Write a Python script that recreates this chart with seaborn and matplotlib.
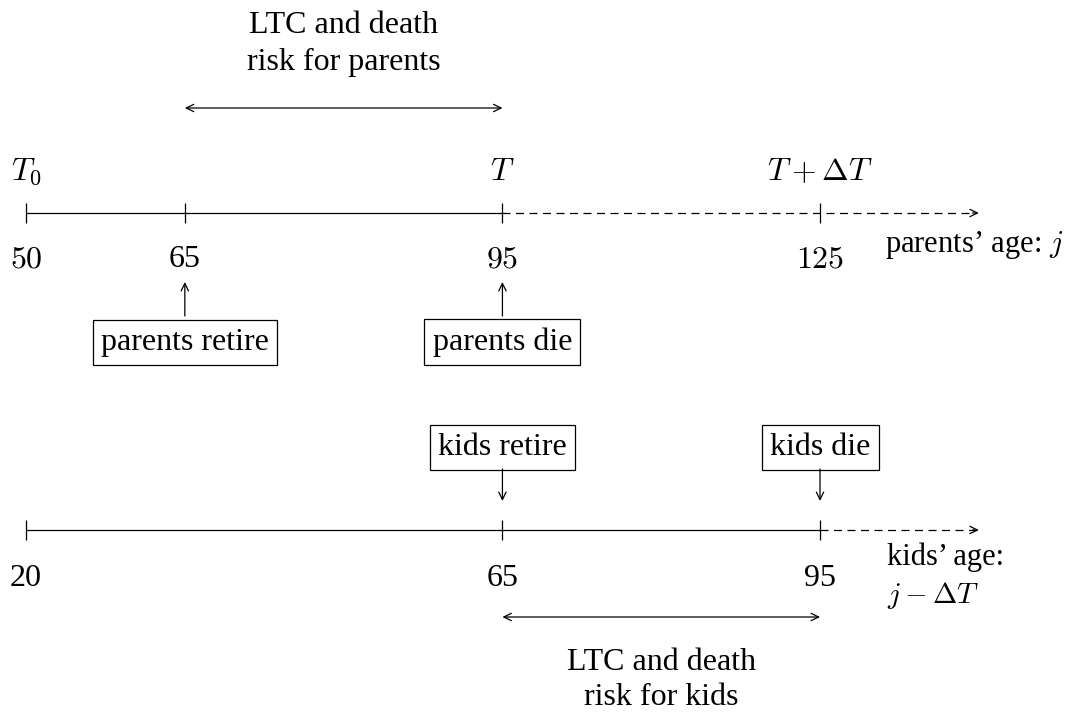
### TIMELINE: PARENTS AND KIDS AGES ###

import numpy as np
import matplotlib
matplotlib.use("Agg")
import matplotlib.pyplot as plt
import seaborn as sns

# Data (everything in parents' age, kids are DELTA_T years younger)
DELTA_T = 30
parent_ticks = [50, 65, 95, 125]
parent_tick_labels = ["$50$", "65", "$95$", "$125$"]
parent_solid_end = 95
parent_dashed_end = 140
parent_markers = [50, 95, 125]
parent_marker_labels = ["$T_0$", "$T$", "$T + \\Delta T$"]
parent_events = [65, 95]
parent_event_labels = ["parents retire", "parents die"]
parent_risk = [65, 95]

kid_ticks = [20, 65, 95]
kid_tick_labels = ["20", "65", "95"]
kid_solid_end = 95
kid_dashed_end = 110
kid_events = [65, 95]
kid_event_labels = ["kids retire", "kids die"]
kid_risk = [65, 95]

sns.set_theme(style="white")
plt.rcParams["font.family"] = ["Liberation Serif", "DejaVu Serif"]
plt.rcParams["mathtext.fontset"] = "cm"
plt.rcParams["text.color"] = "black"

fig = plt.figure(figsize=(10.76, 7.15), dpi=100)
ax = fig.add_axes([0, 0, 1, 1])
ax.set_xlim(47.54, 149.18)
ax.set_ylim(715, 0)  # y in pixel rows, top is 0
ax.axis("off")

FS = 23
LW = 0.9
DASH = (0, (6.4, 4.4))
y_par = 213
y_kid = 530
box = dict(boxstyle="square,pad=0.26", fc="white", ec="black", lw=LW)
head = "->,head_length=0.45,head_width=0.22"
dhead = "<->,head_length=0.45,head_width=0.22"
arr = lambda style: dict(arrowstyle=style, lw=LW, color="black", shrinkA=0, shrinkB=0)

# ---- parents' line ----
sns.lineplot(x=[parent_ticks[0], parent_solid_end], y=[y_par, y_par], color="black", lw=LW, ax=ax)
ax.plot([parent_solid_end, parent_dashed_end - 0.3], [y_par, y_par], color="black", lw=LW, ls=DASH)
ax.annotate("", xy=(parent_dashed_end, y_par), xytext=(parent_dashed_end - 0.6, y_par), arrowprops=arr(head))
ax.vlines(parent_ticks, y_par - 10, y_par + 10, color="black", lw=LW)
for t, lab in zip(parent_ticks, parent_tick_labels):
    ax.text(t, 267, lab, ha="center", va="baseline", fontsize=FS)
for t, lab in zip(parent_markers, parent_marker_labels):
    ax.text(t, 180, lab, ha="center", va="baseline", fontsize=FS)
ax.text(131.1, 252, "parents’ age: $j$", ha="left", va="baseline", fontsize=22)

for t, lab in zip(parent_events, parent_event_labels):
    ax.text(t, 350, lab, ha="center", va="baseline", fontsize=FS, bbox=box)
    ax.annotate("", xy=(t, 282), xytext=(t, 316), arrowprops=arr(head))

ax.annotate("", xy=(parent_risk[1], 108), xytext=(parent_risk[0], 108), arrowprops=arr(dhead))
ax.text(np.mean(parent_risk), 33, "LTC and death", ha="center", va="baseline", fontsize=FS)
ax.text(np.mean(parent_risk), 70, "risk for parents", ha="center", va="baseline", fontsize=FS)

# ---- kids' line (shifted by DELTA_T) ----
k = lambda a: a + DELTA_T
sns.lineplot(x=[k(kid_ticks[0]), k(kid_solid_end)], y=[y_kid, y_kid], color="black", lw=LW, ax=ax)
ax.plot([k(kid_solid_end), k(kid_dashed_end) - 0.3], [y_kid, y_kid], color="black", lw=LW, ls=DASH)
ax.annotate("", xy=(k(kid_dashed_end), y_kid), xytext=(k(kid_dashed_end) - 0.6, y_kid), arrowprops=arr(head))
ax.vlines([k(t) for t in kid_ticks], y_kid - 10, y_kid + 10, color="black", lw=LW)
for t, lab in zip(kid_ticks, kid_tick_labels):
    ax.text(k(t), 586, lab, ha="center", va="baseline", fontsize=FS)
ax.text(131.3, 565, "kids’ age:", ha="left", va="baseline", fontsize=22)
ax.text(131.3, 603, "$j - \\Delta T$", ha="left", va="baseline", fontsize=21)

for t, lab in zip(kid_events, kid_event_labels):
    ax.text(k(t), 455, lab, ha="center", va="baseline", fontsize=FS, bbox=box)
    ax.annotate("", xy=(k(t), 501), xytext=(k(t), 469), arrowprops=arr(head))

ax.annotate("", xy=(k(kid_risk[1]), 617), xytext=(k(kid_risk[0]), 617), arrowprops=arr(dhead))
ax.text(k(np.mean(kid_risk)), 670, "LTC and death", ha="center", va="baseline", fontsize=FS)
ax.text(k(np.mean(kid_risk)), 705, "risk for kids", ha="center", va="baseline", fontsize=FS)

fig.savefig("out.png", dpi=100)
